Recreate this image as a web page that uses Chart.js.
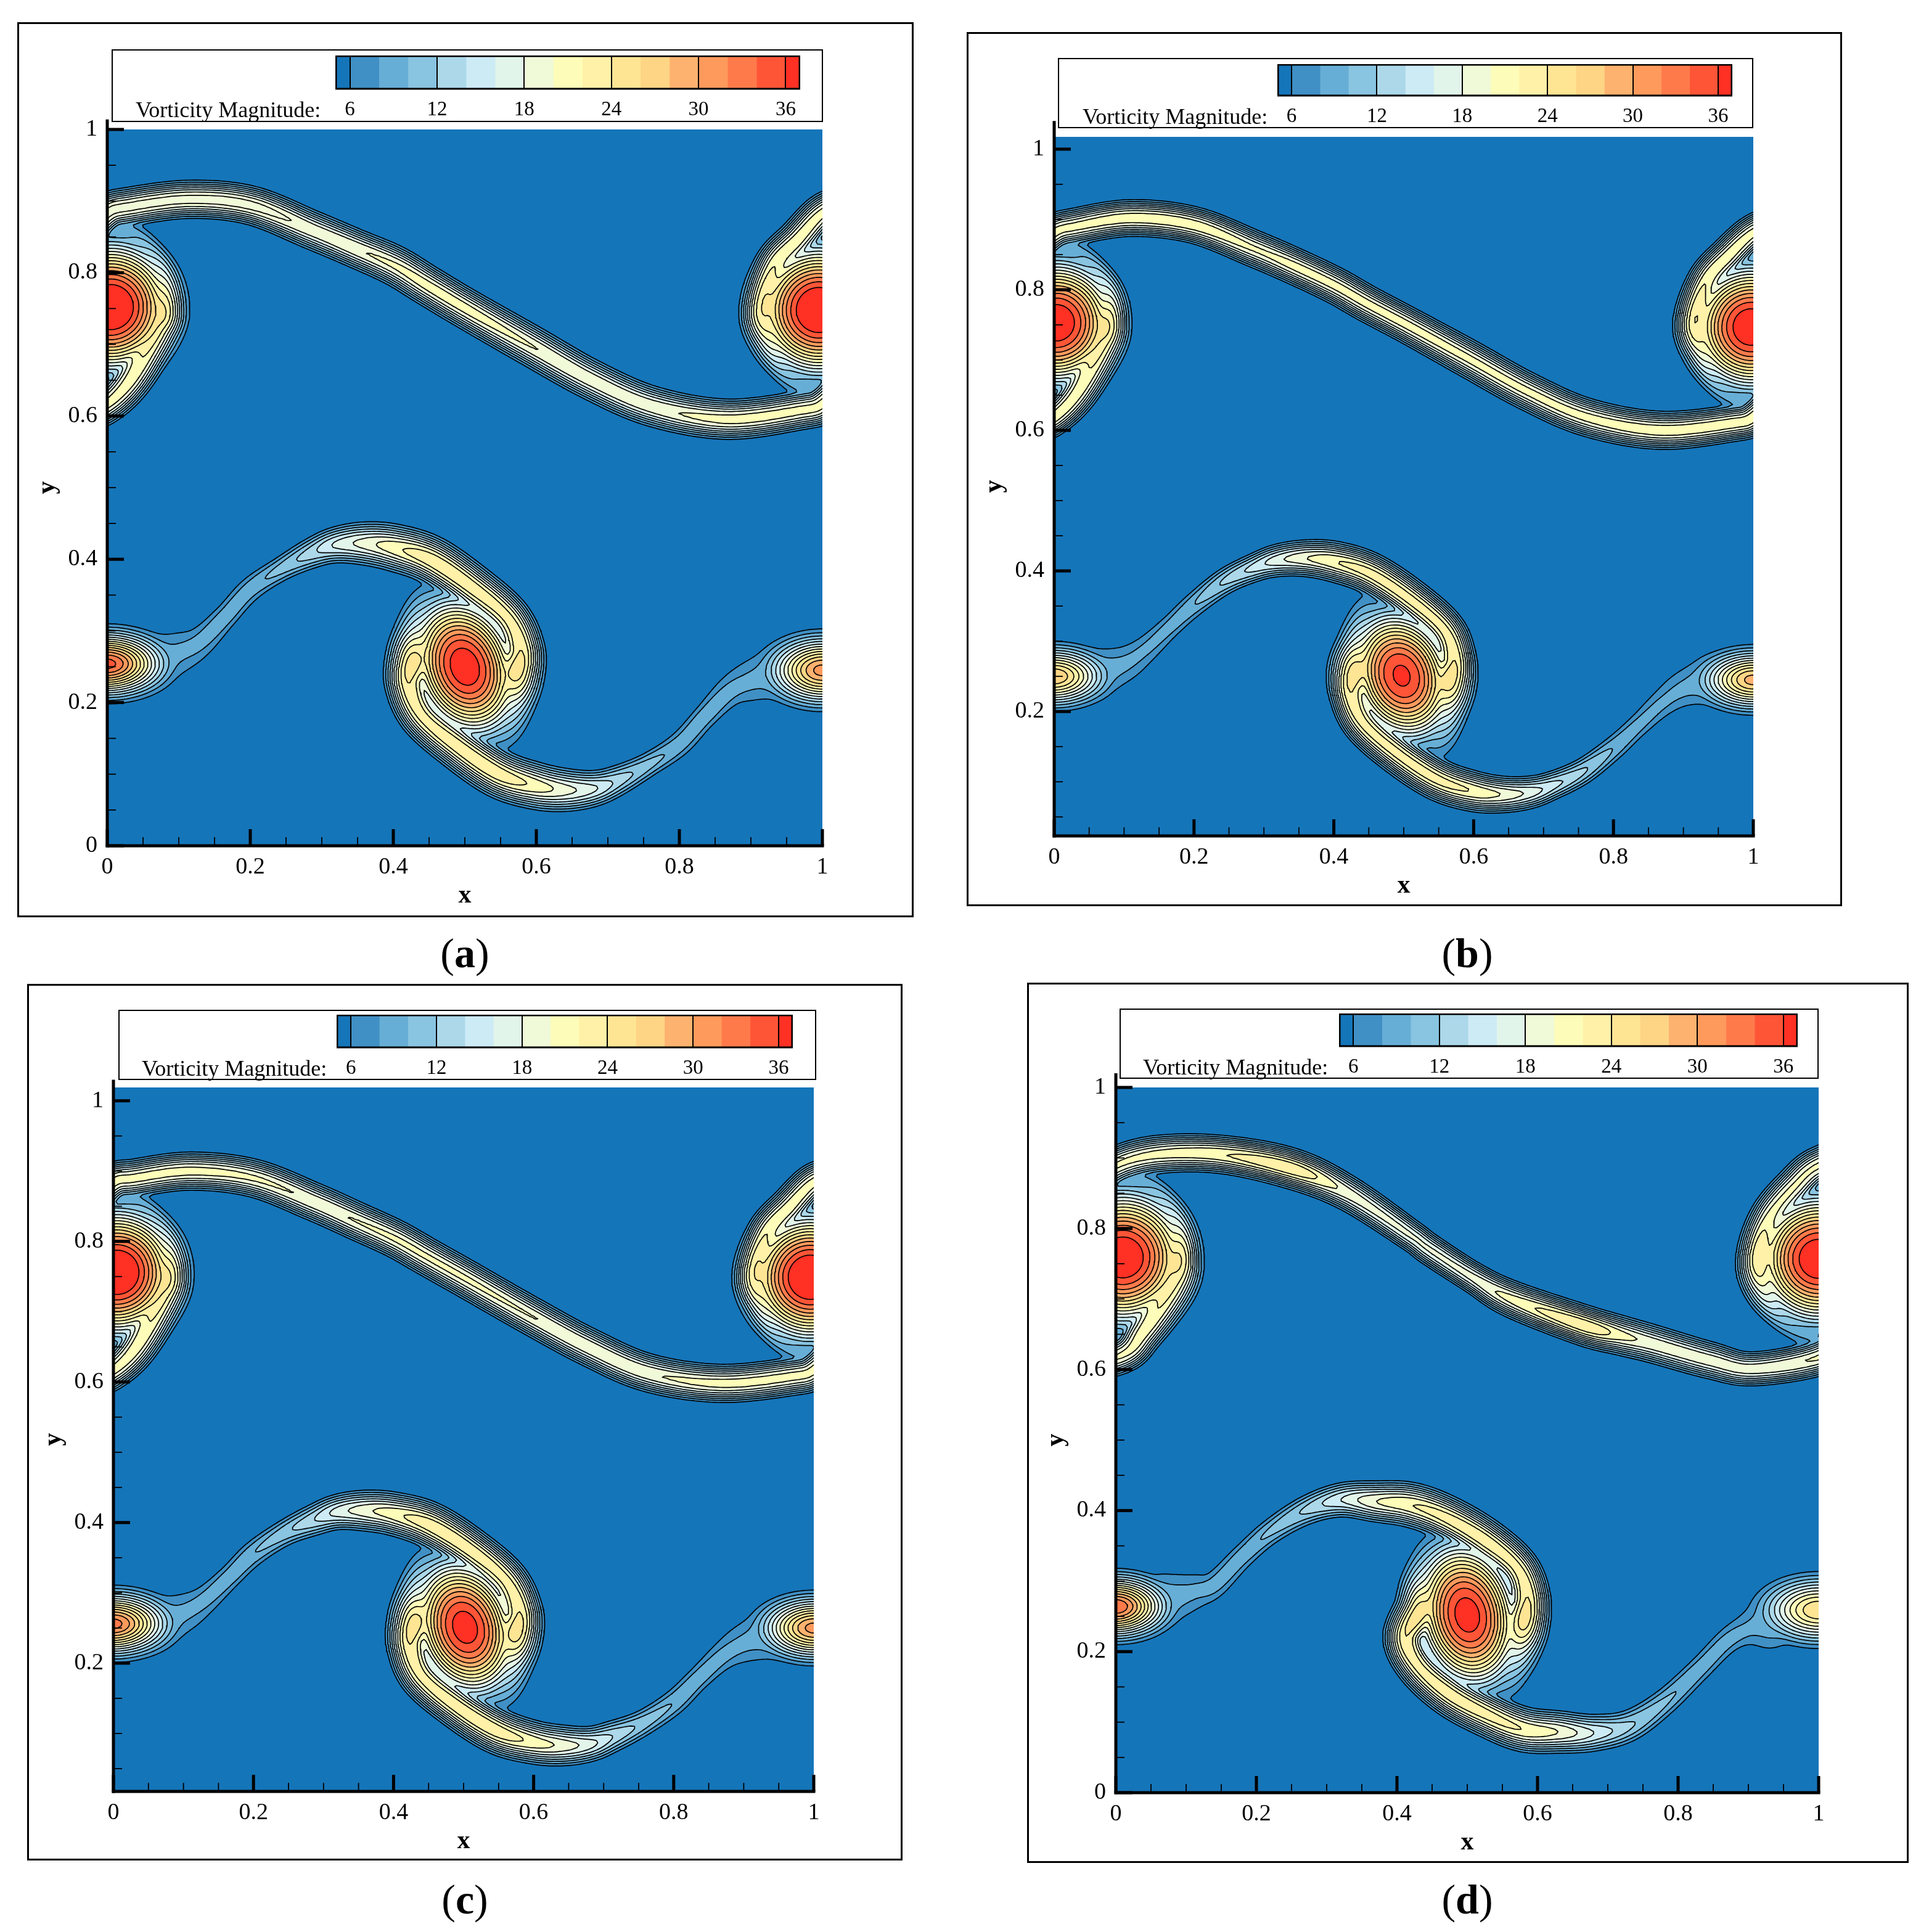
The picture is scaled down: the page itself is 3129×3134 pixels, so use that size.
<!DOCTYPE html>
<html><head><meta charset="utf-8">
<script src="https://cdn.jsdelivr.net/npm/chart.js@4/dist/chart.umd.min.js"></script>
<style>
html,body{margin:0;padding:0;background:#fff;}
#page{position:relative;width:3129px;height:3134px;overflow:hidden;font-family:"Liberation Serif",serif;}
.frame,.lbox{position:absolute;box-sizing:border-box;border:3px solid #000;background:#fff;}
.lbox{border-width:2.5px;}
canvas{position:absolute;}
.cap{position:absolute;transform:translate(-50%,-50%);font-size:68px;white-space:nowrap;}
.ltitle{position:absolute;font-size:36px;white-space:nowrap;transform:translateY(-50%);}
</style></head><body><div id="page"></div>
<script>
// Contour bands of the colour bar
const bandEdges=[5,6,8,10,12,14,16,18,20,22,24,26,28,30,32,34,36,37];
const bandColors=['#1575b9','#4090c5','#67aed6','#89c4e1','#acd8ea','#cdebf5','#e2f5ea','#f0f9d8','#fdfdb9','#fff1a8','#fee594','#fed585','#feb26f','#fe9a5c','#ff7a4b','#ff5537','#ff3024'];
const contourLevels=[6,8,10,12,14,16,18,20,22,24,26,28,30,32,34,36];
const legendTicks=[6,12,18,24,30,36];
const axisMajor=[0,0.2,0.4,0.6,0.8,1];
const axisMinor=[0.05,0.1,0.15,0.25,0.3,0.35,0.45,0.5,0.55,0.65,0.7,0.75,0.85,0.9,0.95];

// The contours are an approximation rebuilt from values:
// ridge rows are [x, y, half width of the level-6 contour, peak vorticity];
// core rows are [x, y, long radius, short radius, tilt in degrees, peak vorticity, profile exponent].
const upperA=[[-.01,.63,.018,8],[-.05,.664,.021,11],[-.072,.705,.03,19],[-.083,.747,.033,24],[-.067,.81,.029,22],[-.034,.847,.028,21.5],[0,.883,.027,21],[.03,.892,.027,21],[.115,.9025,.0265,21],[.201,.894,.027,21],[.287,.8595,.027,19.7],[.345,.835,.027,20],[.402,.81,.028,20.5],[.448,.782,.028,21],[.505,.748,.028,21],[.591,.699,.0285,20.2],[.678,.65,.028,19.7],[.764,.613,.028,19.7],[.867,.5955,.028,21],[.97,.608,.027,21],[1,.617,.027,21],[1.034,.653,.03,21.5],[1.068,.719,.036,22.5],[1.078,.748,.035,24],[1.075,.795,.027,17],[1.05,.836,.021,11],[1.01,.87,.018,8]];
const lowerLeftA=[[.06,.258,.035,9],[.1,.27,.027,8.5],[.13,.285,.02,8.8],[.165,.32,.016,9.5],[.2,.358,.016,9.5],[.244,.387,.0165,11],[.287,.409,.021,13.5],[.32,.42,.025,16.5],[.36,.422,.03,19],[.402,.416,.033,21.5],[.453,.399,.034,23.5],[.511,.36,.033,23.5],[.56,.318,.032,23],[.578,.275,.034,24],[.572,.24,.04,25],[.565,.205,.036,17],[.553,.17,.03,10],[.54,.148,.02,7]];
const lowerRightA=[[.94,.242,.035,9],[.9,.23,.027,8.5],[.87,.215,.02,8.8],[.835,.18,.016,9.5],[.8,.142,.016,9.5],[.756,.113,.0165,11],[.713,.091,.021,13.5],[.68,.08,.025,16.5],[.64,.078,.03,19],[.598,.084,.033,21.5],[.547,.101,.034,23.5],[.489,.14,.033,23.5],[.44,.182,.032,23],[.422,.225,.034,24],[.428,.26,.04,25],[.435,.295,.036,17],[.447,.33,.03,10],[.46,.352,.02,7]];
const coresA=[[.005,.752,.086,.086,0,38.8,2.6],[.995,.748,.086,.086,0,38.8,2.6],[.5,.25,.095,.07,20,37.4,2.6],[0,.254,.076,.042,90,35,2],[1,.245,.073,.045,90,31,2]];

const upperB=[[-.01,.635,.017,8],[-.05,.668,.02,11],[-.072,.71,.029,19],[-.083,.752,.032,24],[-.067,.812,.028,22],[-.034,.85,.027,21.5],[0,.881,.026,21],[.03,.89,.026,21],[.11,.902,.026,21.5],[.2,.892,.026,21.5],[.287,.858,.026,20.5],[.345,.833,.026,21],[.402,.806,.026,21],[.448,.78,.026,21],[.505,.75,.026,21],[.591,.703,.027,20.8],[.678,.655,.027,20.8],[.764,.618,.027,21],[.867,.6,.027,21.5],[.97,.61,.026,21.5],[1,.619,.026,21.5],[1.034,.655,.029,21.5],[1.066,.718,.035,22.5],[1.076,.752,.034,24],[1.075,.795,.026,17],[1.05,.835,.02,11],[1.01,.868,.017,8]];
const lowerLeftB=[[.06,.255,.033,9],[.1,.268,.024,8.5],[.13,.288,.018,8.5],[.165,.32,.015,9],[.2,.352,.016,10],[.244,.385,.018,12.5],[.287,.405,.02,15],[.32,.415,.023,17.5],[.36,.418,.026,20],[.402,.413,.029,22],[.453,.396,.03,23],[.511,.358,.03,23],[.558,.316,.03,23],[.572,.275,.032,24],[.565,.24,.04,25],[.56,.205,.034,17],[.55,.17,.028,10],[.54,.148,.02,7]];
const lowerRightB=[[.94,.245,.033,9],[.9,.232,.024,8.5],[.87,.212,.018,8.5],[.835,.18,.015,9],[.8,.148,.016,10],[.756,.115,.018,12.5],[.713,.095,.02,15],[.68,.085,.023,17.5],[.64,.082,.026,20],[.598,.087,.029,22],[.547,.104,.03,23],[.489,.142,.03,23],[.442,.184,.03,23],[.425,.225,.032,24],[.43,.26,.04,25],[.437,.295,.034,17],[.448,.33,.028,10],[.458,.352,.02,7]];
const coresB=[[.003,.753,.084,.084,0,37.8,2.6],[.997,.747,.084,.084,0,37.8,2.6],[.497,.251,.09,.07,20,36.4,2.6],[0,.25,.073,.04,90,28,2],[1,.245,.073,.04,90,29,2]];

const upperC=[[-.01,.635,.018,8],[-.05,.668,.021,11],[-.072,.71,.03,19],[-.083,.752,.033,24],[-.067,.812,.029,22],[-.034,.85,.028,21.5],[0,.884,.027,21],[.03,.89,.027,21],[.11,.9,.027,21],[.2,.89,.027,20.5],[.287,.856,.027,20],[.345,.83,.027,20.2],[.402,.804,.027,20.5],[.448,.778,.027,20.5],[.505,.746,.027,20.5],[.591,.697,.027,20.2],[.678,.65,.027,20],[.764,.613,.027,20],[.867,.598,.027,21],[.97,.608,.027,21],[1,.617,.027,21],[1.034,.652,.03,21.5],[1.068,.718,.036,22.5],[1.078,.752,.035,24],[1.075,.795,.027,17],[1.05,.835,.021,11],[1.01,.87,.018,8]];
const lowerLeftC=[[.06,.258,.035,9],[.1,.272,.026,8.5],[.13,.29,.019,8.8],[.165,.322,.016,9.5],[.2,.356,.017,10],[.244,.385,.018,11.5],[.287,.404,.022,14],[.32,.415,.025,17],[.36,.417,.029,19.5],[.402,.412,.031,21.5],[.453,.396,.033,23.5],[.511,.36,.032,23.5],[.56,.318,.032,23],[.579,.275,.034,24],[.574,.24,.04,25],[.566,.205,.036,17],[.554,.17,.03,10],[.54,.148,.02,7]];
const lowerRightC=[[.94,.242,.035,9],[.9,.228,.026,8.5],[.87,.21,.019,8.8],[.835,.178,.016,9.5],[.8,.144,.017,10],[.756,.115,.018,11.5],[.713,.096,.022,14],[.68,.085,.025,17],[.64,.083,.029,19.5],[.598,.088,.031,21.5],[.547,.104,.033,23.5],[.489,.14,.032,23.5],[.44,.182,.032,23],[.424,.225,.034,24],[.43,.26,.04,25],[.437,.295,.036,17],[.449,.33,.03,10],[.462,.352,.02,7]];
const coresC=[[.005,.756,.086,.086,0,38.8,2.6],[.995,.749,.086,.086,0,38.8,2.6],[.502,.251,.095,.07,18,37,2.6],[0,.256,.076,.042,90,33,2],[1,.25,.073,.042,90,31,2]];

const upperD=[[-.005,.645,.018,8],[-.05,.675,.021,11],[-.077,.715,.03,19],[-.085,.757,.033,24],[-.07,.815,.029,21],[-.034,.86,.028,20.5],[0,.889,.027,20.5],[.06,.905,.027,21],[.15,.905,.027,22],[.25,.885,.029,23.8],[.33,.85,.025,19.5],[.42,.79,.022,18.5],[.447,.77,.022,18.5],[.509,.73,.022,19],[.563,.7,.026,21],[.665,.663,.029,23.8],[.72,.648,.028,21],[.762,.637,.027,19.7],[.846,.613,.026,19.5],[.908,.601,.024,19.5],[1.005,.619,.026,20.5],[1.04,.655,.03,21.5],[1.08,.72,.037,22.5],[1.09,.76,.034,24],[1.085,.805,.027,17],[1.06,.845,.021,11],[1.02,.875,.018,8]];
const lowerLeftD=[[.07,.275,.035,9],[.11,.285,.024,8.5],[.14,.295,.018,9],[.18,.335,.016,9.5],[.22,.37,.017,10.5],[.27,.4,.02,12.5],[.32,.415,.024,16],[.37,.413,.029,20],[.42,.408,.032,22],[.47,.39,.032,23],[.525,.358,.032,23.5],[.57,.32,.031,23],[.585,.28,.033,24],[.58,.24,.038,25],[.57,.205,.036,17],[.555,.17,.03,10],[.545,.148,.02,7]];
const lowerRightD=[[.93,.24,.035,9],[.9,.232,.022,8.5],[.87,.215,.017,9],[.83,.175,.016,9.5],[.78,.128,.018,10.5],[.73,.095,.022,12.5],[.68,.085,.026,16],[.63,.086,.03,20],[.58,.09,.032,22],[.53,.11,.032,23],[.475,.14,.032,23.5],[.43,.18,.031,23],[.413,.22,.033,24],[.433,.26,.038,25],[.44,.295,.036,17],[.452,.33,.03,10],[.46,.352,.02,7]];
const coresD=[[.01,.759,.09,.09,0,38,2.6],[1,.757,.086,.086,0,38,2.6],[.5,.252,.1,.07,12,37,2.6],[0,.264,.07,.041,90,34,2],[1,.259,.08,.045,90,26,2]];

// Page layout of each panel
const panels=[
 {cap:'a',capX:754,capY:1546,frame:[28,36,1482,1488],plot:[174,210,1334,1372],yr:[0,1],axisTop:1.014,box:[181,80,1335,198],bar:[544,90,1298,145],title:220,ridges:[upperA,lowerLeftA,lowerRightA],cores:coresA},
 {cap:'b',capX:2380,capY:1546,frame:[1568,52,2988,1470],plot:[1710,222,2844,1356],yr:[.023,1.0175],axisTop:1.04,box:[1716,94,2844,208],bar:[2072,104,2810,156],title:1756,ridges:[upperB,lowerLeftB,lowerRightB],cores:coresB},
 {cap:'c',capX:754,capY:3081,frame:[44,1596,1464,3018],plot:[184,1764,1320,2906],yr:[.0175,1.019],axisTop:1.03,box:[192,1638,1324,1752],bar:[546,1646,1286,1700],title:230,ridges:[upperC,lowerLeftC,lowerRightC],cores:coresC},
 {cap:'d',capX:2380,capY:3081,frame:[1666,1594,3096,3022],plot:[1810,1764,2950,2908],yr:[0,1],axisTop:1.02,box:[1816,1636,2950,1750],bar:[2172,1644,2916,1698],title:1854,ridges:[upperD,lowerLeftD,lowerRightD],cores:coresD}
];

const SERIF='"Liberation Serif"';
const h=1/300,xMin=-0.03,yMin=-0.04,cols=Math.round(1.06/h)+1,rows=Math.round(1.08/h)+1;

function buildField(p){
  const Rg=new Float32Array(cols*rows),Cr=new Float32Array(cols*rows);
  const stamp=(cx,cy,w,P)=>{
    if(P<=6.01)return;
    const s=w/Math.pow(Math.log(P/6),1/2.25),R=1.5*w,R2=R*R,s2=s*s;
    for(const sh of [-1,0,1]){
      const c=cx+sh; if(c<xMin-R||c>xMin+(cols-1)*h+R)continue;
      const i0=Math.max(0,Math.floor((c-R-xMin)/h)),i1=Math.min(cols-1,Math.ceil((c+R-xMin)/h));
      const j0=Math.max(0,Math.floor((cy-R-yMin)/h)),j1=Math.min(rows-1,Math.ceil((cy+R-yMin)/h));
      for(let j=j0;j<=j1;j++){const y=yMin+j*h;
        for(let i=i0;i<=i1;i++){const x=xMin+i*h,d2=(x-c)*(x-c)+(y-cy)*(y-cy);
          if(d2>R2)continue;
          const v=P*Math.exp(-Math.pow(d2/s2,1.125)),k=j*cols+i; if(v>Rg[k])Rg[k]=v;}}
    }
  };
  for(const r of p.ridges){
    for(let a=0;a<r.length-1;a++){
      const p0=r[Math.max(a-1,0)],p1=r[a],p2=r[a+1],p3=r[Math.min(a+2,r.length-1)];
      const n=Math.ceil(Math.hypot(p2[0]-p1[0],p2[1]-p1[1])/0.0015)+1;
      for(let t=0;t<n;t++){const u=t/n,v=[0,1,2,3].map(m=>0.5*((2*p1[m])+(-p0[m]+p2[m])*u+(2*p0[m]-5*p1[m]+4*p2[m]-p3[m])*u*u+(-p0[m]+3*p1[m]-3*p2[m]+p3[m])*u*u*u));
        stamp(v[0],v[1],v[2],v[3]);}
    }
  }
  for(const c of p.cores){
    const t=c[4]*Math.PI/180,st=Math.sin(t),ct=Math.cos(t),R=c[2]*2,e=c[6];
    const i0=Math.max(0,Math.floor((c[0]-R-xMin)/h)),i1=Math.min(cols-1,Math.ceil((c[0]+R-xMin)/h));
    const j0=Math.max(0,Math.floor((c[1]-R-yMin)/h)),j1=Math.min(rows-1,Math.ceil((c[1]+R-yMin)/h));
    for(let j=j0;j<=j1;j++){const dy=yMin+j*h-c[1];
      for(let i=i0;i<=i1;i++){const dx=xMin+i*h-c[0],u=-dx*st+dy*ct,w=dx*ct+dy*st;
        const v=c[5]*Math.exp(-Math.pow((u*u)/(c[2]*c[2])+(w*w)/(c[3]*c[3]),e/2)),k=j*cols+i; if(v>Cr[k])Cr[k]=v;}}
  }
  // soft union of ridges and cores, so the arms blend into the vortex plateau
  const F=new Float32Array(cols*rows);
  for(let k=0;k<F.length;k++){const a=Rg[k],b=Cr[k];F[k]=(a===0||b===0)?a+b:Math.pow(Math.pow(a,8)+Math.pow(b,8),1/8);}
  // light smoothing and a zero rim so every contour closes outside the plot
  const G=new Float32Array(cols*rows);
  for(let j=1;j<rows-1;j++)for(let i=1;i<cols-1;i++){
    if(j<2||i<2||j>=rows-2||i>=cols-2){G[j*cols+i]=0;continue;}
    const k=j*cols+i;
    G[k]=(4*F[k]+2*(F[k-1]+F[k+1]+F[k-cols]+F[k+cols])+F[k-cols-1]+F[k-cols+1]+F[k+cols-1]+F[k+cols+1])/16+1e-4;
  }
  return G;
}
function sample(F,x,y){
  const fx=(x-xMin)/h,fy=(y-yMin)/h,i=Math.min(cols-2,Math.max(0,Math.floor(fx))),j=Math.min(rows-2,Math.max(0,Math.floor(fy))),a=fx-i,b=fy-j,k=j*cols+i;
  return (1-b)*((1-a)*F[k]+a*F[k+1])+b*((1-a)*F[k+cols]+a*F[k+cols+1]);
}
function contourLoops(F,L,color){
  const adj=new Map(),pos=new Map();
  const addV=(id,x,y)=>{if(!pos.has(id))pos.set(id,[x,y]);};
  const link=(a,b)=>{(adj.get(a)||adj.set(a,[]).get(a)).push(b);(adj.get(b)||adj.set(b,[]).get(b)).push(a);};
  for(let j=0;j<rows-1;j++)for(let i=0;i<cols-1;i++){
    const k=j*cols+i,a=F[k],b=F[k+1],c=F[k+cols+1],d=F[k+cols];
    const cs=(a>L?1:0)|(b>L?2:0)|(c>L?4:0)|(d>L?8:0);
    if(cs===0||cs===15)continue;
    const x=xMin+i*h,y=yMin+j*h;
    const S=()=>{const id=2*k;addV(id,x+h*(L-a)/(b-a),y);return id;};
    const N=()=>{const id=2*(k+cols);addV(id,x+h*(L-d)/(c-d),y+h);return id;};
    const W=()=>{const id=2*k+1;addV(id,x,y+h*(L-a)/(d-a));return id;};
    const E=()=>{const id=2*(k+1)+1;addV(id,x+h,y+h*(L-b)/(c-b));return id;};
    switch(cs){
      case 1:case 14:link(S(),W());break;
      case 2:case 13:link(S(),E());break;
      case 3:case 12:link(W(),E());break;
      case 4:case 11:link(E(),N());break;
      case 6:case 9:link(S(),N());break;
      case 7:case 8:link(W(),N());break;
      case 5:link(S(),E());link(W(),N());break;
      case 10:link(S(),W());link(E(),N());break;
    }
  }
  const loops=[],seen=new Set();
  for(const start of adj.keys()){
    if(seen.has(start))continue;
    const ids=[start];seen.add(start);let prev=-1,cur=start;
    while(true){
      const nb=adj.get(cur);let nx=nb[0]===prev?nb[1]:nb[0];
      if(nx===undefined||nx===start||seen.has(nx))break;
      ids.push(nx);seen.add(nx);prev=cur;cur=nx;
    }
    const pts=ids.map(id=>{const q=pos.get(id);return {x:q[0],y:q[1]};});
    if(pts.length<4)continue;
    let area=0;for(let m=0;m<pts.length;m++){const A=pts[m],B=pts[(m+1)%pts.length];area+=A.x*B.y-B.x*A.y;}
    area=Math.abs(area/2); if(area<2e-6)continue;
    // which side of the contour is the inside, and is it above or below the level?
    const A=pts[0],B=pts[1],mx=(A.x+B.x)/2,my=(A.y+B.y)/2,len=Math.hypot(B.x-A.x,B.y-A.y)||1,e=h*0.25;
    let px=mx-(B.y-A.y)/len*e,py=my+(B.x-A.x)/len*e;
    const inside=(x,y)=>{let c=false;for(let m=0,n=pts.length-1;m<pts.length;n=m++){const a=pts[m],b=pts[n];if((a.y>y)!==(b.y>y)&&x<(b.x-a.x)*(y-a.y)/(b.y-a.y)+a.x)c=!c;}return c;};
    if(!inside(px,py)){px=mx+(B.y-A.y)/len*e;py=my-(B.x-A.x)/len*e;}
    const above=sample(F,px,py)>L;
    pts.push({x:pts[0].x,y:pts[0].y});
    loops.push({pts,area,color:color(L,above)});
  }
  return loops;
}
const bandColorFor=(L,above)=>{const i=bandEdges.indexOf(L);return bandColors[above?i:i-1];};

const axesPlugin={id:'tecAxes',
  beforeDatasetsDraw(c){const a=c.chartArea,ctx=c.ctx;ctx.save();ctx.fillStyle=bandColors[0];ctx.fillRect(a.left,a.top,a.right-a.left,a.bottom-a.top);ctx.restore();},
  afterDatasetsDraw(c,_,o){
    const ctx=c.ctx,X=c.scales.x,Y=c.scales.y,x0=X.getPixelForValue(0),x1=X.getPixelForValue(1),yb=Y.getPixelForValue(Y.min),yT=Y.getPixelForValue(o.axisTop);
    ctx.save();ctx.strokeStyle='#000';ctx.lineCap='butt';
    const ln=(a,b,cc,d,w)=>{ctx.lineWidth=w;ctx.beginPath();ctx.moveTo(a,b);ctx.lineTo(cc,d);ctx.stroke();};
    for(const v of axisMinor){ln(X.getPixelForValue(v),yb,X.getPixelForValue(v),yb-14,1.8);if(v>=Y.min)ln(x0,Y.getPixelForValue(v),x0+14,Y.getPixelForValue(v),1.8);}
    for(const v of axisMajor){ln(X.getPixelForValue(v),yb,X.getPixelForValue(v),yb-27,5);if(v>=Y.min)ln(x0,Y.getPixelForValue(v),x0+27,Y.getPixelForValue(v),5);}
    ln(x0-2.5,yb,x1+2.5,yb,5);ln(x0,yb+2.5,x0,yT,5);
    ctx.restore();
  }};
const barBoxPlugin={id:'barBox',afterDraw(c){const a=c.chartArea,ctx=c.ctx;ctx.save();ctx.strokeStyle='#000';ctx.lineWidth=3;ctx.strokeRect(a.left+1,a.top+1,a.right-a.left-2,a.bottom-a.top-2);ctx.restore();}};

const page=document.getElementById('page');
const mk=(cls,l,t,w,h2)=>{const d=document.createElement('div');d.className=cls;d.style.cssText=`left:${l}px;top:${t}px;width:${w}px;height:${h2}px;`;page.appendChild(d);return d;};
const mkCanvas=(l,t,w,h2)=>{const c=document.createElement('canvas');c.width=w;c.height=h2;c.style.cssText=`left:${l}px;top:${t}px;width:${w}px;height:${h2}px;`;page.appendChild(c);return c;};

panels.forEach(p=>{
  const [fl,ft,fr,fb]=p.frame;mk('frame',fl,ft,fr-fl,fb-ft);
  const [bl,bt,br,bb]=p.box;mk('lbox',bl,bt,br-bl,bb-bt);

  const [pl,pt,pr,pb]=p.plot,LEFT=130,RIGHT=30,TOP=40,BOTTOM=112;
  const F=buildField(p);
  let loops=[];for(const L of contourLevels)loops=loops.concat(contourLoops(F,L,bandColorFor));
  loops.sort((a,b)=>a.area-b.area); // smallest first: dataset 0 is painted last
  const datasets=loops.map(l=>({data:l.pts,showLine:true,fill:'shape',backgroundColor:l.color,borderColor:'#000',borderWidth:1.7,pointRadius:0,borderJoinStyle:'round',spanGaps:true}));
  const cv=mkCanvas(pl-LEFT,pt-TOP,pr-pl+LEFT+RIGHT,pb-pt+TOP+BOTTOM);
  new Chart(cv,{type:'scatter',data:{datasets},plugins:[axesPlugin],options:{
    responsive:false,animation:false,devicePixelRatio:1,events:[],
    layout:{padding:{top:TOP,right:RIGHT,left:0,bottom:0}},
    plugins:{legend:{display:false},tooltip:{enabled:false},tecAxes:{axisTop:p.axisTop}},
    scales:{
      x:{type:'linear',min:0,max:1,border:{display:false},grid:{display:false,drawTicks:false},
        afterFit:s=>{s.height=BOTTOM;},afterBuildTicks:s=>{s.ticks=axisMajor.map(v=>({value:v}));},
        ticks:{font:{family:SERIF,size:38},color:'#000',padding:12,maxRotation:0,autoSkip:false,callback:v=>String(v)},
        title:{display:true,text:'x',color:'#000',font:{family:SERIF,size:42,weight:'bold'},padding:{top:0,bottom:6}}},
      y:{type:'linear',min:p.yr[0],max:p.yr[1],border:{display:false},grid:{display:false,drawTicks:false},
        afterFit:s=>{s.width=LEFT;},afterBuildTicks:s=>{s.ticks=axisMajor.filter(v=>v>=p.yr[0]).map(v=>({value:v}));},
        ticks:{font:{family:SERIF,size:38},color:'#000',padding:16,autoSkip:false,callback:v=>String(v)},
        title:{display:true,text:'y',color:'#000',font:{family:SERIF,size:42,weight:'bold'},padding:{top:8,bottom:0}}}
    }}});

  // colour bar
  const [cl,ct,cr,cb]=p.bar,LH=56;
  const lc=mkCanvas(cl,ct,cr-cl,cb-ct+LH);
  const bands=bandColors.map((col,i)=>({data:[[bandEdges[i],bandEdges[i+1]]],backgroundColor:col,borderWidth:0,barPercentage:1,categoryPercentage:1,grouped:false}));
  new Chart(lc,{type:'bar',data:{labels:['Vorticity Magnitude'],datasets:bands},plugins:[barBoxPlugin],options:{
    indexAxis:'y',responsive:false,animation:false,devicePixelRatio:1,events:[],
    layout:{padding:0},plugins:{legend:{display:false},tooltip:{enabled:false}},
    scales:{
      x:{type:'linear',min:bandEdges[0],max:bandEdges[bandEdges.length-1],border:{display:false},
        grid:{display:true,z:1,color:'#000',lineWidth:2,drawTicks:false},
        afterBuildTicks:s=>{s.ticks=legendTicks.map(v=>({value:v}));},afterFit:s=>{s.height=LH;s.paddingLeft=0;s.paddingRight=0;},
        ticks:{font:{family:SERIF,size:33},color:'#000',padding:14,maxRotation:0,autoSkip:false}},
      y:{display:false}
    }}});
  const t=document.createElement('div');t.className='ltitle';t.textContent='Vorticity Magnitude:';t.style.left=p.title+'px';t.style.top=(cb+33)+'px';page.appendChild(t);

  const cap=document.createElement('div');cap.className='cap';cap.innerHTML='(<b>'+p.cap+'</b>)';cap.style.left=p.capX+'px';cap.style.top=p.capY+'px';page.appendChild(cap);
});
</script></body></html>
